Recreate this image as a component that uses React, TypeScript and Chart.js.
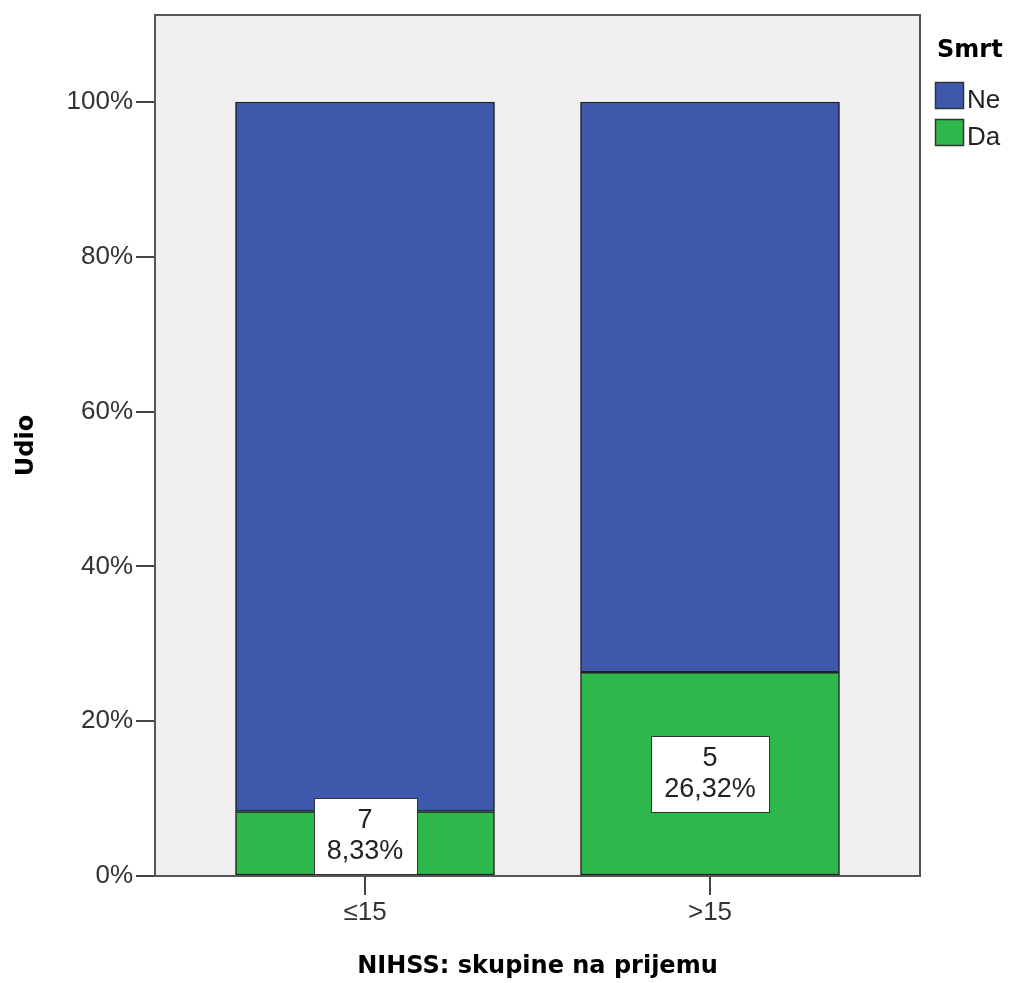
import React, { useEffect, useRef } from 'react';
import { Chart, registerables } from 'chart.js';

Chart.register(...registerables);

const categories = ['≤15', '>15'];
const categoryPositions = [0, 1];
const seriesNames = ['Ne', 'Da'];
const neValues = [91.67, 73.68];
const daValues = [8.33, 26.32];
const daCounts = [7, 5];
const yTickValues = [0, 20, 40, 60, 80, 100];
const legendTitle = 'Smrt';
const xTitle = 'NIHSS: skupine na prijemu';
const yTitle = 'Udio';

const NE_COLOR = '#3E58AC';
const DA_COLOR = '#2EB84B';
const PLOT_BG = '#F0F0F0';
const REG_FONT = '"Liberation Sans", Arial, sans-serif';
const BOLD_FONT = '"DejaVu Sans", sans-serif';

const fmtPct = (v: number) => v.toFixed(2).replace('.', ',') + '%';

const framePlugin = {
  id: 'frameAndLabels',
  beforeDatasetsDraw(chart: any) {
    const { ctx, chartArea: a } = chart;
    ctx.save();
    ctx.fillStyle = PLOT_BG;
    ctx.fillRect(a.left, a.top, a.right - a.left, a.bottom - a.top);
    ctx.restore();
  },
  afterDatasetsDraw(chart: any) {
    const { ctx, chartArea: a } = chart;
    ctx.save();
    ctx.strokeStyle = '#555555';
    ctx.lineWidth = 2;
    ctx.strokeRect(a.left, a.top, a.right - a.left, a.bottom - a.top);

    // value boxes on the "Da" segments
    const meta = chart.getDatasetMeta(0);
    ctx.font = `27px ${REG_FONT}`;
    meta.data.forEach((bar: any, i: number) => {
      const lines = [String(daCounts[i]), fmtPct(daValues[i])];
      const tw = Math.max(...lines.map((l) => ctx.measureText(l).width));
      const w = Math.round(tw + 26);
      const h = 76;
      let cy = (bar.y + bar.base) / 2;
      if (cy + h / 2 > bar.base - 1) cy = bar.base - 1 - h / 2;
      const x0 = Math.round(bar.x - w / 2) + 0.5;
      const y0 = Math.round(cy - h / 2) + 0.5;
      ctx.fillStyle = '#FFFFFF';
      ctx.fillRect(x0, y0, w, h);
      ctx.strokeStyle = '#333333';
      ctx.lineWidth = 1;
      ctx.strokeRect(x0, y0, w, h);
      ctx.fillStyle = '#222222';
      ctx.textAlign = 'center';
      ctx.textBaseline = 'middle';
      ctx.fillText(lines[0], bar.x, cy - 15);
      ctx.fillText(lines[1], bar.x, cy + 16);
    });
    ctx.restore();
  },
  afterDraw(chart: any) {
    const { ctx } = chart;
    ctx.save();
    ctx.fillStyle = '#000000';
    ctx.textAlign = 'left';
    ctx.textBaseline = 'alphabetic';
    ctx.font = `bold 24px ${BOLD_FONT}`;
    ctx.fillText(legendTitle, 937, 57);
    const items = [
      { name: seriesNames[0], color: NE_COLOR },
      { name: seriesNames[1], color: DA_COLOR },
    ];
    ctx.font = `26px ${REG_FONT}`;
    items.forEach((it, i) => {
      const y = 82 + i * 37;
      ctx.fillStyle = it.color;
      ctx.fillRect(935.5, y + 0.5, 28, 26);
      ctx.strokeStyle = '#333333';
      ctx.lineWidth = 1.5;
      ctx.strokeRect(935.5, y + 0.5, 28, 26);
      ctx.fillStyle = '#222222';
      ctx.fillText(it.name, 967, y + 26);
    });
    ctx.restore();
  },
};

export default function App() {
  const ref = useRef<HTMLCanvasElement | null>(null);

  useEffect(() => {
    document.body.style.margin = '0';
    const canvas = ref.current;
    if (!canvas) return;
    const chart = new Chart(canvas, {
      type: 'bar',
      data: {
        datasets: [
          {
            label: seriesNames[1],
            data: categoryPositions.map((x, i) => ({ x, y: daValues[i] })),
            backgroundColor: DA_COLOR,
            borderColor: '#222222',
            borderWidth: 1.5,
            borderSkipped: false,
            barThickness: 259,
          },
          {
            label: seriesNames[0],
            data: categoryPositions.map((x, i) => ({ x, y: neValues[i] })),
            backgroundColor: NE_COLOR,
            borderColor: '#222222',
            borderWidth: 1.5,
            borderSkipped: false,
            barThickness: 259,
          },
        ],
      } as any,
      options: {
        responsive: false,
        animation: false,
        layout: { padding: { top: 15, right: 92, left: 0, bottom: 0 } },
        plugins: {
          legend: { display: false },
          tooltip: { enabled: false },
        },
        scales: {
          x: {
            type: 'linear',
            stacked: true,
            offset: false,
            min: -0.6087,
            max: 1.6087,
            afterBuildTicks: (scale: any) => {
              scale.ticks = categoryPositions.map((v) => ({ value: v }));
            },
            afterFit: (scale: any) => {
              scale.height = 107;
              scale.paddingLeft = 0;
              scale.paddingRight = 0;
            },
            grid: {
              offset: false,
              drawOnChartArea: false,
              drawTicks: true,
              tickLength: 19,
              color: '#444444',
              lineWidth: 2,
            },
            border: { display: false },
            ticks: {
              padding: 2,
              color: '#333333',
              font: { family: REG_FONT, size: 26 },
              callback: (v: any) => categories[categoryPositions.indexOf(Number(v))] ?? '',
              maxRotation: 0,
              autoSkip: false,
            },
            title: {
              display: true,
              text: xTitle,
              color: '#000000',
              font: { family: BOLD_FONT, size: 24, weight: 'bold' },
              padding: { top: 0, bottom: 2 },
            },
          },
          y: {
            type: 'linear',
            stacked: true,
            min: 0,
            max: 111.24,
            afterBuildTicks: (scale: any) => {
              scale.ticks = yTickValues.map((v) => ({ value: v }));
            },
            afterFit: (scale: any) => {
              scale.width = 155;
              scale.paddingTop = 0;
              scale.paddingBottom = 0;
            },
            grid: {
              drawOnChartArea: false,
              drawTicks: true,
              tickLength: 19,
              color: '#444444',
              lineWidth: 2,
            },
            border: { display: false },
            ticks: {
              padding: 3,
              color: '#333333',
              font: { family: REG_FONT, size: 26 },
              callback: (v: any) => `${v}%`,
            },
            title: {
              display: true,
              text: yTitle,
              color: '#000000',
              font: { family: BOLD_FONT, size: 24, weight: 'bold' },
              padding: { top: 12, bottom: 0 },
            },
          },
        },
      } as any,
      plugins: [framePlugin],
    });
    return () => chart.destroy();
  }, []);

  return (
    <div style={{ width: 1012, height: 983, background: '#FFFFFF' }}>
      <canvas ref={ref} width={1012} height={983} style={{ display: 'block' }} />
    </div>
  );
}
